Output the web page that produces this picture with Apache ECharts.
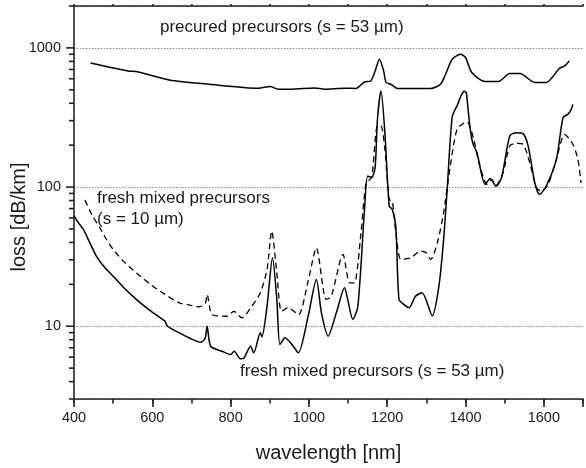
<!DOCTYPE html>
<html>
<head>
<meta charset="utf-8">
<script src="https://cdn.jsdelivr.net/npm/echarts@6/dist/echarts.min.js"></script>
<style>
html,body{margin:0;padding:0;background:#fff;}
#chart{width:586px;height:468px;}
</style>
</head>
<body>
<div id="chart"></div>
<script>
// wavelength [nm] and loss [dB/km]
var precuredX = [442,542,559,643,745,871,901,922,955,1015,1040,1091,1120,1142,1158,1169,1180,1191,1197,1209,1226,1259,1311,1336,1349,1366,1387,1400,1416,1450,1484,1513,1539,1577,1606,1640,1653,1665];
var precuredY = [780,680,676,589,548,513,528,505,505,515,505,513,511,569,579,680,829,680,564,548,511,511,511,548,647,829,901,853,665,573,573,654,654,564,564,714,742,806];

var fresh53X = [400,412,424,440,457,478,500,528,559,592,626,632,639,669,694,724,735,740,749,778,800,809,825,834,851,859,876,880,893,907,918,926,939,960,973,998,1019,1032,1049,1070,1091,1099,1112,1125,1142,1150,1160,1169,1175,1184,1194,1205,1213,1222,1230,1243,1256,1272,1289,1315,1332,1344,1353,1366,1380,1389,1397,1402,1406,1412,1419,1429,1450,1463,1478,1492,1513,1530,1547,1560,1577,1589,1606,1632,1649,1661,1670,1674];
var fresh53Y = [62,55,49.6,40,31.9,26.5,22.9,18.8,15.6,13.1,11.2,10.9,10.0,8.96,8.26,7.67,8.2,10.0,7.18,6.61,6.26,6.61,5.83,5.9,7.18,6.44,8.96,8.4,13.9,31,15.6,7.38,8.26,7.18,6.44,11.8,21.7,12.5,8.48,12.5,18.9,15.6,11.2,13.9,69,120,117,138,307,490,246,73,69,52,15.6,14.3,13.6,16.4,17.4,11.9,19.4,42,95,320,393,457,488,474,374,260,205,177,104.5,115,101.6,117,233,246,242,197,107,88.6,101.6,158,316,333,362,393];

var fresh10X = [428,446,466,483,500,528,559,592,626,669,690,719,735,740,753,791,808,829,854,876,893,905,918,930,947,973,998,1019,1044,1057,1087,1104,1116,1133,1146,1160,1175,1184,1194,1205,1213,1222,1235,1260,1285,1298,1311,1328,1344,1361,1378,1393,1404,1421,1433,1455,1467,1478,1496,1513,1530,1547,1564,1581,1594,1611,1632,1653,1674,1687,1695];
var fresh10Y = [80.6,63,51,42,35.6,29,24.2,20.3,17.4,14.7,14.3,13.8,14.5,16.9,12.1,11.8,12.8,11.5,13.9,17.4,25.6,48.2,24.2,12.8,13.6,12.1,21.1,36.6,15.6,16.4,32.8,20.5,20.5,47,107,117,275,275,187,81.6,79,47,30.2,31,34.6,34,30.2,39.8,65.4,142,260,285,294,220,154,104.5,113.6,103,127,197,206,203,150,99,93.6,104.5,158,239,203,158,107];

var xRange = [400, 1700];
var xMajorTicks = [400,600,800,1000,1200,1400,1600];
var yRange = [3, 2000];
var yMajorTicks = [10,100,1000];
var yMinorTicks = [3,4,5,6,7,8,9,20,30,40,50,60,70,80,90,200,300,400,500,600,700,800,900,2000];

var labels = {
  precured: 'precured precursors (s = 53 µm)',
  fresh10: 'fresh mixed precursors\n(s = 10 µm)',
  fresh53: 'fresh mixed precursors (s = 53 µm)',
  xName: 'wavelength [nm]',
  yName: 'loss [dB/km]'
};

function zip(xs, ys){ return xs.map(function(x,i){ return [x, ys[i]]; }); }

var FONT = '"Liberation Sans", Arial, sans-serif';
var AX = '#222222';
var TXT = '#1a1a1a';

// y-axis tick marks placed through the axis scale (api.coord)
function yTickSeries(values, len){
  return {
    type: 'custom', clip: false, z: 5,
    data: values.map(function(v){ return [xRange[0], v]; }),
    renderItem: function(params, api){
      var p = api.coord([api.value(0), api.value(1)]);
      return {type: 'line', shape: {x1: p[0] - len, y1: p[1], x2: p[0], y2: p[1]},
        style: {stroke: AX, lineWidth: 1.6}};
    }
  };
}

var chart = echarts.init(document.getElementById('chart'), null, {renderer:'canvas'});
var option = {
  animation: false,
  backgroundColor: '#fff',
  textStyle: {fontFamily: FONT},
  grid: {left: 74, right: -1, top: 6, bottom: 69, containLabel: false},
  xAxis: [
    {
      type: 'value', position: 'bottom', min: xRange[0], max: xRange[1], interval: 200,
      axisLine: {show: true, onZero: false, lineStyle: {color: AX, width: 1.6}},
      axisTick: {show: true, length: 8, lineStyle: {color: AX, width: 1.6}},
      axisLabel: {show: true, margin: 11, fontSize: 14.5, color: TXT, fontFamily: FONT,
        formatter: function(v){ return xMajorTicks.indexOf(Math.round(v)) >= 0 ? String(Math.round(v)) : ''; }},
      splitLine: {show: false},
      name: labels.xName, nameLocation: 'middle', nameGap: 44,
      nameTextStyle: {fontSize: 20, color: TXT, fontFamily: FONT}
    },
    {
      type: 'value', position: 'bottom', min: xRange[0], max: xRange[1], interval: 100,
      axisLine: {show: false, onZero: false},
      axisTick: {show: true, length: 4.5, lineStyle: {color: AX, width: 1.6}},
      axisLabel: {show: false}, splitLine: {show: false}
    },
    {
      type: 'value', position: 'top', min: xRange[0], max: xRange[1], interval: 100,
      axisLine: {show: true, onZero: false, lineStyle: {color: AX, width: 1.6}},
      axisTick: {show: true, length: 2, lineStyle: {color: AX, width: 1.6}},
      axisLabel: {show: false}, splitLine: {show: false}
    }
  ],
  yAxis: [
    {
      type: 'log', logBase: 10, min: yRange[0], max: yRange[1], position: 'left',
      axisLine: {show: true, onZero: false, lineStyle: {color: AX, width: 1.6}},
      axisTick: {show: false},
      axisLabel: {show: true, margin: 13, fontSize: 14.5, color: TXT, fontFamily: FONT,
        formatter: function(v){ var r = Math.round(v); return yMajorTicks.indexOf(r) >= 0 ? String(r) : ''; }},
      splitLine: {show: true, lineStyle: {color: '#8a8a8a', width: 1, type: [1.5, 1.5]}}
    }
  ],
  series: [
    {
      type: 'line', name: 'precured',
      data: zip(precuredX, precuredY), showSymbol: false, smooth: 0.25,
      lineStyle: {color: '#000', width: 1.5}
    },
    {
      type: 'line', name: 'fresh53',
      data: zip(fresh53X, fresh53Y), showSymbol: false, smooth: 0.25,
      lineStyle: {color: '#000', width: 1.5}
    },
    {
      type: 'line', name: 'fresh10',
      data: zip(fresh10X, fresh10Y), showSymbol: false, smooth: 0.25,
      lineStyle: {color: '#000', width: 1.3, type: [6, 4]}
    },
    yTickSeries(yMajorTicks, 8),
    yTickSeries(yMinorTicks, 5)
  ],
  graphic: [
    {type: 'text', left: 160, top: 19, style: {text: labels.precured, font: '17px ' + FONT, fill: TXT}},
    {type: 'text', left: 97, top: 188, style: {text: labels.fresh10, font: '17px ' + FONT, fill: TXT, lineHeight: 21}},
    {type: 'text', left: 240, top: 363, style: {text: labels.fresh53, font: '17px ' + FONT, fill: TXT}},
    {type: 'text', x: 19, y: 217, rotation: Math.PI/2,
      style: {text: labels.yName, font: '20px ' + FONT, fill: TXT, align: 'center', verticalAlign: 'middle'}}
  ]
};
chart.setOption(option);
</script>
</body>
</html>
